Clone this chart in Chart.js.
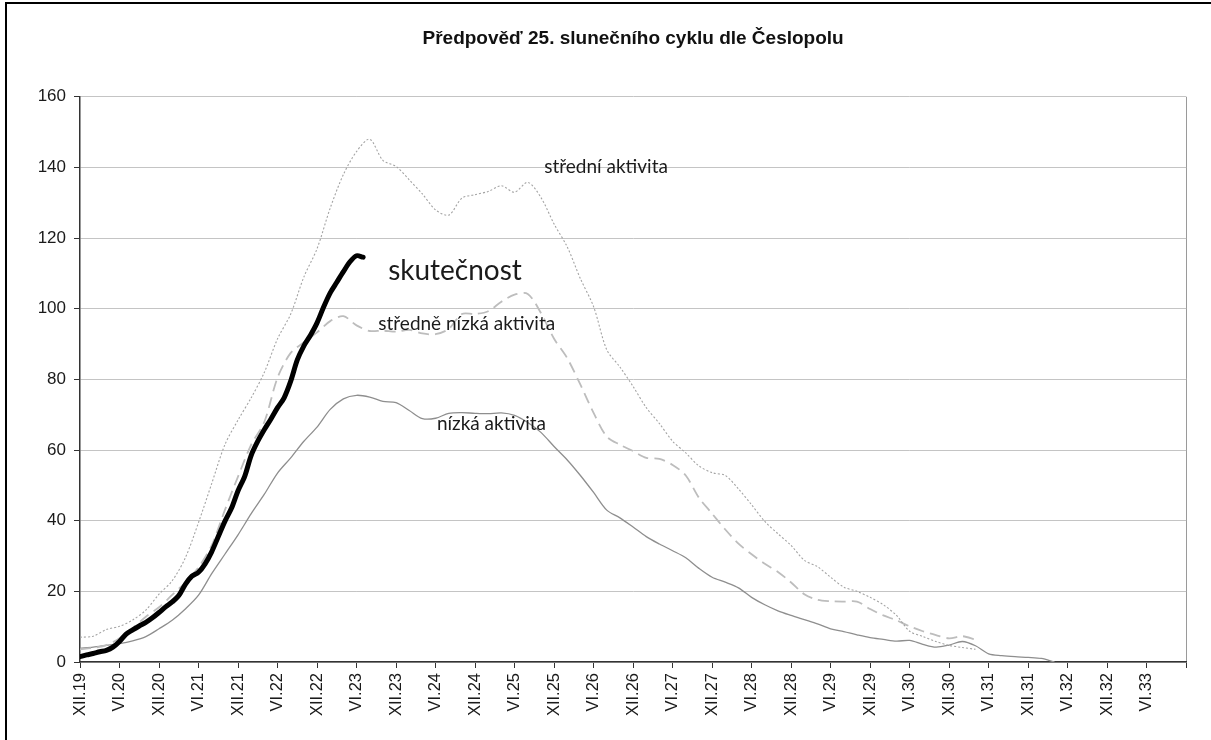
<!DOCTYPE html>
<html lang="cs">
<head>
<meta charset="utf-8">
<title>Předpověď 25. slunečního cyklu dle Česlopolu</title>
<script src="https://cdn.jsdelivr.net/npm/chart.js@4.4.1/dist/chart.umd.min.js"></script>
<style>
  html, body { margin: 0; padding: 0; background: #fff; }
  #wrap { position: relative; width: 1211px; height: 740px; overflow: hidden; }
  #frame { position: absolute; left: 5px; top: 2px; right: -4px; bottom: -4px;
           border-left: 2px solid #000; border-top: 2px solid #000; pointer-events: none; }
</style>
</head>
<body>
<div id="wrap">
  <canvas id="mainGraph" width="1211" height="740"></canvas>
  <div id="frame"></div>
</div>
<script>
// x = months since XII.2019, labels every 6 months
var tickLabels = ['XII.19', 'VI.20', 'XII.20', 'VI.21', 'XII.21', 'VI.22', 'XII.22', 'VI.23', 'XII.23',
    'VI.24', 'XII.24', 'VI.25', 'XII.25', 'VI.26', 'XII.26', 'VI.27', 'XII.27', 'VI.28', 'XII.28',
    'VI.29', 'XII.29', 'VI.30', 'XII.30', 'VI.31', 'XII.31', 'VI.32', 'XII.32', 'VI.33'];

// skutečnost (measured), monthly
var monthsReal = [0, 1, 2, 3, 4, 5, 6, 7, 8, 9, 10, 11, 12, 13, 14, 15, 16, 17, 18, 19, 20, 21,
    22, 23, 24, 25, 26, 27, 28, 29, 30, 31, 32, 33, 34, 35, 36, 37, 38, 39, 40, 41, 42, 43];
var skutecnost = [1.5, 2.0, 2.4, 2.9, 3.3, 4.2, 5.8, 7.9, 9.1, 10.2, 11.2, 12.5, 14.0, 15.6, 17.0,
    18.8, 22.0, 24.3, 25.4, 27.8, 31.2, 35.5, 39.8, 43.5, 48.5, 52.5, 58.5, 62.5, 65.8, 68.8, 72.0,
    74.8, 79.5, 85.5, 89.5, 92.5, 96.0, 100.5, 104.5, 107.5, 110.5, 113.3, 115.0, 114.6];

// forecasts, every 2 months
var monthsForecast = [0, 2, 4, 6, 8, 10, 12, 14, 16, 18, 20, 22, 24, 26, 28, 30, 32, 34, 36, 38,
    40, 42, 44, 46, 48, 50, 52, 54, 56, 58, 60, 62, 64, 66, 68, 70, 72, 74, 76, 78, 80, 82, 84, 86,
    88, 90, 92, 94, 96, 98, 100, 102, 104, 106, 108, 110, 112, 114, 116, 118, 120, 122, 124, 126,
    128, 130, 132, 134, 136, 138, 140, 142, 144, 146, 148];

var stredniAktivita = [7.0, 7.3, 9.2, 10.1, 11.9, 14.7, 19.2, 23.0, 29.5, 39.5, 50.5, 61.5, 68.5,
    74.8, 82.0, 91.5, 98.5, 109.0, 117.0, 128.5, 138.0, 144.5, 148.0, 142.0, 140.3, 136.5, 132.5,
    128.0, 126.5, 131.3, 132.3, 133.2, 134.8, 133.0, 135.8, 131.5, 124.0, 117.5, 108.5, 100.6, 88.4,
    83.5, 78.0, 72.0, 67.5, 62.5, 59.2, 55.5, 53.6, 52.8, 49.0, 44.5, 39.8, 36.3, 33.0, 28.8, 27.0,
    24.0, 21.2, 20.0, 18.3, 16.2, 13.2, 8.7, 7.2, 5.8, 4.7, 4.1, 3.6];

var stredneNizkaAktivita = [3.6, 4.0, 4.8, 6.7, 9.6, 12.8, 15.5, 19.0, 22.5, 26.8, 33.0, 43.0, 52.5,
    61.5, 68.0, 80.5, 87.5, 90.5, 93.3, 96.5, 97.9, 95.3, 93.7, 93.8, 93.5, 94.0, 93.0, 92.8, 94.3,
    98.5, 98.5, 99.3, 102.0, 104.0, 104.2, 98.8, 91.5, 86.0, 78.5, 70.5, 63.8, 61.5, 59.7, 57.8, 57.5,
    55.8, 52.8, 46.5, 42.0, 37.5, 33.5, 30.5, 27.8, 25.5, 22.5, 19.2, 17.6, 17.2, 17.1, 17.1, 15.0,
    13.2, 11.8, 10.1, 8.7, 7.6, 6.7, 7.3, 6.3];

var nizkaAktivita = [3.9, 4.2, 4.7, 5.2, 6.0, 7.2, 9.4, 11.8, 15.0, 18.9, 25.0, 30.5, 36.0, 42.0,
    47.5, 53.5, 57.8, 62.5, 66.5, 71.5, 74.5, 75.5, 75.0, 73.8, 73.4, 71.2, 68.9, 69.0, 70.4, 70.6,
    70.4, 70.3, 70.5, 69.8, 67.8, 65.0, 61.0, 57.2, 52.8, 48.0, 43.0, 40.8, 38.2, 35.5, 33.4, 31.5,
    29.5, 26.5, 24.0, 22.6, 21.0, 18.3, 16.2, 14.5, 13.2, 12.0, 10.8, 9.4, 8.6, 7.7, 6.9, 6.4, 5.9,
    6.1, 5.0, 4.2, 4.8, 5.8, 4.6, 2.3, 1.8, 1.5, 1.3, 1.0, 0];

// curve captions, anchored at (month, value)
var labelTexts = ['střední aktivita', 'skutečnost', 'středně nízká aktivita', 'nízká aktivita'];
var labelMonths = [70.5, 46.8, 45.3, 54.2];
var labelValues = [140.2, 110.7, 95.7, 67.4];

function points(months, values) {
    return values.map(function (v, i) { return { x: months[i], y: v }; });
}

var axisFont = 'Liberation Sans, Arial, sans-serif';
var labelSizes = [19, 28, 19, 19];

var curveLabels = {
    id: 'curveLabels',
    afterDatasetsDraw: function (chart) {
        var ctx = chart.ctx;
        var xs = chart.scales.x, ys = chart.scales.y;
        ctx.save();
        ctx.fillStyle = '#1b1b1b';
        ctx.textAlign = 'left';
        ctx.textBaseline = 'middle';
        for (var i = 0; i < labelTexts.length; i++) {
            ctx.font = labelSizes[i] + 'px Lato, "Open Sans", sans-serif';
            ctx.fillText(labelTexts[i], xs.getPixelForValue(labelMonths[i]), ys.getPixelForValue(labelValues[i]));
        }
        ctx.restore();
    }
};

var ctx = document.getElementById('mainGraph').getContext('2d');
var chart = new Chart(ctx, {
    type: 'line',
    data: {
        datasets: [{
            label: 'skutečnost',
            data: points(monthsReal, skutecnost),
            borderColor: '#000',
            borderWidth: 5,
            borderCapStyle: 'round',
            tension: 0.3
        }, {
            label: 'střední aktivita',
            data: points(monthsForecast, stredniAktivita),
            borderColor: '#a3a3a3',
            borderWidth: 1.1,
            borderDash: [2, 2]
        }, {
            label: 'středně nízká aktivita',
            data: points(monthsForecast, stredneNizkaAktivita),
            borderColor: '#bdbdbd',
            borderWidth: 1.8,
            borderDash: [11, 6]
        }, {
            label: 'nízká aktivita',
            data: points(monthsForecast, nizkaAktivita),
            borderColor: '#8e8e8e',
            borderWidth: 1.3
        }]
    },
    options: {
        responsive: false,
        animation: false,
        layout: { padding: { left: 6, right: 19, top: 0, bottom: 0 } },
        elements: {
            point: { radius: 0 },
            line: { tension: 0.3, fill: false }
        },
        plugins: {
            legend: { display: false },
            tooltip: { enabled: false },
            title: {
                display: true,
                fullSize: false,
                text: 'Předpověď 25. slunečního cyklu dle Česlopolu',
                color: '#111',
                font: { family: axisFont, size: 19, weight: 'bold' },
                padding: { top: 27, bottom: 47 }
            }
        },
        scales: {
            x: {
                type: 'linear',
                min: 0,
                max: 168,
                afterFit: function (scale) { scale.height = 78; },
                ticks: {
                    stepSize: 6,
                    autoSkip: false,
                    minRotation: 90,
                    maxRotation: 90,
                    padding: 5,
                    color: '#1a1a1a',
                    font: { family: axisFont, size: 16.5 },
                    callback: function (value) { return tickLabels[value / 6] || ''; }
                },
                grid: {
                    drawOnChartArea: true,
                    color: function (c) { return c.tick && c.tick.value === 168 ? '#9a9a9a' : 'rgba(0,0,0,0)'; },
                    tickColor: '#333',
                    tickLength: 6
                },
                border: { display: true, color: '#333', width: 1.5 }
            },
            y: {
                min: 0,
                max: 160,
                afterFit: function (scale) { scale.width = 74; },
                ticks: {
                    stepSize: 20,
                    padding: 8,
                    color: '#1a1a1a',
                    font: { family: axisFont, size: 17 }
                },
                grid: { color: '#c4c4c4', tickColor: '#333', tickLength: 6 },
                border: { display: true, color: '#333', width: 1.5 }
            }
        }
    },
    plugins: [curveLabels]
});
</script>
</body>
</html>
